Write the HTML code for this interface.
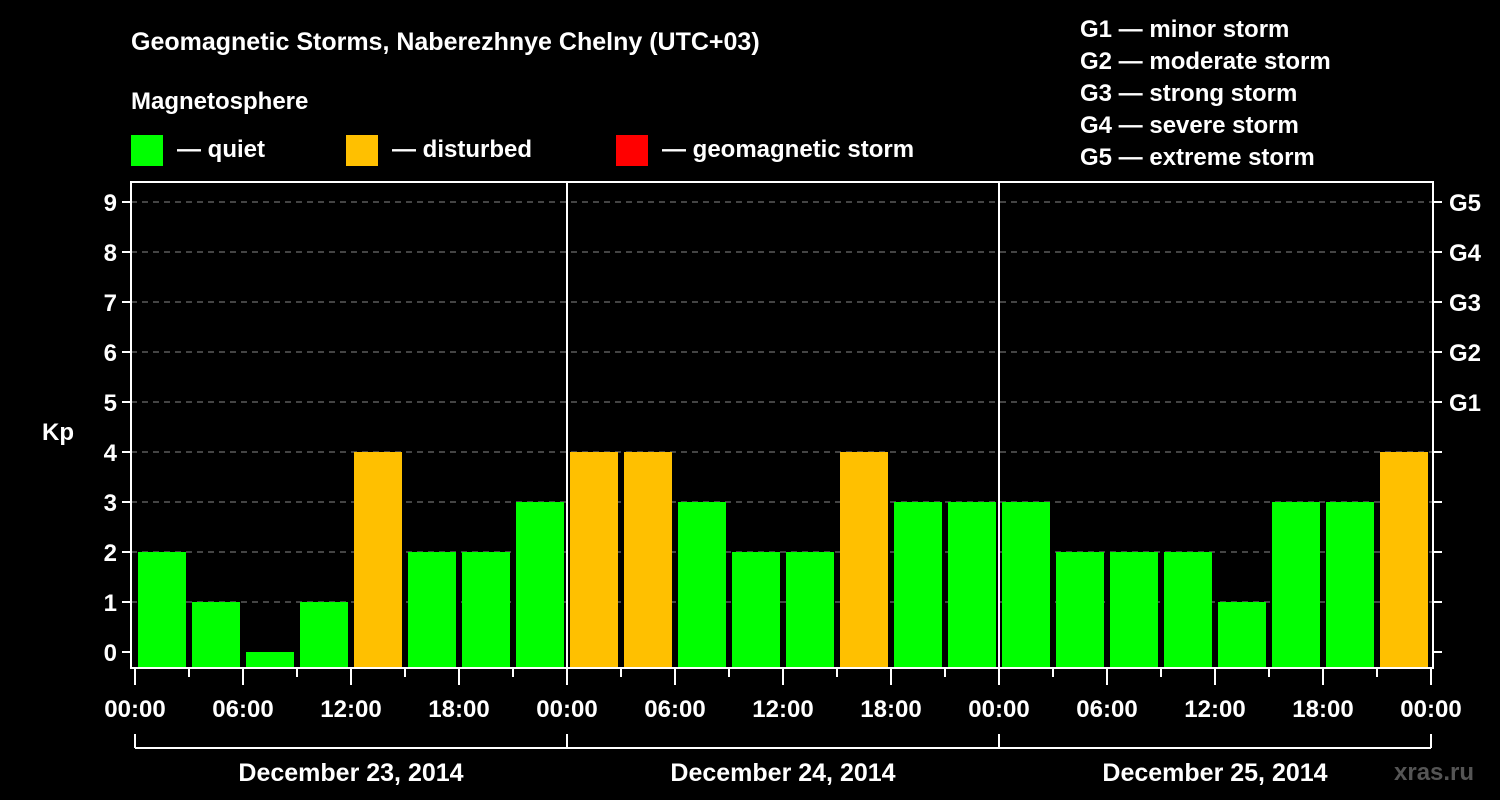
<!DOCTYPE html>
<html><head><meta charset="utf-8"><style>
html,body{margin:0;padding:0;background:#000;width:1500px;height:800px;overflow:hidden}
svg text{font-family:"Liberation Sans",sans-serif;font-weight:bold;fill:#fff}
</style></head><body>
<svg id="c" width="1500" height="800" xmlns="http://www.w3.org/2000/svg">
<text x="131" y="50" font-size="25">Geomagnetic Storms, Naberezhnye Chelny (UTC+03)</text>
<text x="131" y="109" font-size="24">Magnetosphere</text>
<g>
<rect x="131" y="135" width="32" height="31" fill="#00ff00"/>
<text x="177" y="157" font-size="24">— quiet</text>
<rect x="346" y="135" width="32" height="31" fill="#ffc000"/>
<text x="392" y="157" font-size="24">— disturbed</text>
<rect x="616" y="135" width="32" height="31" fill="#ff0000"/>
<text x="662" y="157" font-size="24">— geomagnetic storm</text>
</g>
<g font-size="24">
<text x="1080" y="37">G1 — minor storm</text>
<text x="1080" y="69">G2 — moderate storm</text>
<text x="1080" y="101">G3 — strong storm</text>
<text x="1080" y="133">G4 — severe storm</text>
<text x="1080" y="165">G5 — extreme storm</text>
</g>
<text x="42" y="440" font-size="24">Kp</text>
<text x="1394" y="780" font-size="24" style="fill:#555">xras.ru</text>
<g id="grid"></g><g id="bars"></g><g id="axes"></g>
</svg>
<script>
const kpValues=[2,1,0,1,4,2,2,3, 4,4,3,2,2,4,3,3, 3,2,2,2,1,3,3,4];
const yTicks=[0,1,2,3,4,5,6,7,8,9];
const gLabels=["G1","G2","G3","G4","G5"];
const xTickLabels=["00:00","06:00","12:00","18:00","00:00","06:00","12:00","18:00","00:00","06:00","12:00","18:00","00:00"];
const dayLabels=["December 23, 2014","December 24, 2014","December 25, 2014"];
const NS="http://www.w3.org/2000/svg";
const X0=135,PXH=18,Y0=652,PXK=50,TOP=182,BOT=668,L=131,R=1433;
const xs=h=>X0+h*PXH, ys=k=>Y0-k*PXK;
function mk(tag,attrs,parent,txt){const e=document.createElementNS(NS,tag);for(const k in attrs)e.setAttribute(k,attrs[k]);if(txt!==undefined)e.textContent=txt;parent.appendChild(e);return e;}
const grid=document.getElementById('grid'),bars=document.getElementById('bars'),axes=document.getElementById('axes');
yTicks.forEach(k=>{
 if(k>0){const g=mk('line',{x1:L,x2:R,y1:ys(k),y2:ys(k),stroke:'#888','stroke-dasharray':'6,5','stroke-width':1},grid);
 
 }
 const t=mk('line',{x1:L-9,x2:L,y1:ys(k),y2:ys(k),stroke:'#fff','stroke-width':2},axes);
 
 
 const t2=mk('line',{x1:R,x2:R+9,y1:ys(k),y2:ys(k),stroke:'#fff','stroke-width':2},axes);
 
 
 const lb=mk('text',{x:L-14,y:ys(k)+9,'font-size':24,'text-anchor':'end'},axes,String(k));
 
 
});
gLabels.forEach((g,i)=>{
 const lb=mk('text',{x:1449,y:ys(5+i)+9,'font-size':24},axes,g);
 
 
});
kpValues.forEach((v,i)=>{
 const x=xs(i*3)+3,w=3*PXH-6;
 const col=v>=5?'#ff0000':(v>=4?'#ffc000':'#00ff00');
 const b=mk('rect',{x:x,y:ys(v),width:w,height:BOT-ys(v),fill:col},bars);
 
 
});
const fr=mk('rect',{x:L,y:TOP,width:R-L,height:BOT-TOP,fill:'none',stroke:'#fff','stroke-width':2},axes);


[1,2].forEach(d=>{const l=mk('line',{x1:xs(d*24),x2:xs(d*24),y1:TOP,y2:BOT,stroke:'#fff','stroke-width':2},axes);
 
 });
for(let h=0;h<=72;h+=3){
 const major=h%6===0;
 const t=mk('line',{x1:xs(h),x2:xs(h),y1:BOT,y2:BOT+(major?17:9),stroke:'#fff','stroke-width':2},axes);
 
 
}
xTickLabels.forEach((s,i)=>{
 const t=mk('text',{x:xs(i*6),y:717,'font-size':24,'text-anchor':'middle'},axes,s);
 
 
});
const br=mk('line',{x1:xs(0),x2:xs(72),y1:748,y2:748,stroke:'#fff','stroke-width':2},axes);


[0,1,2,3].forEach(d=>{const l=mk('line',{x1:xs(d*24),x2:xs(d*24),y1:734,y2:748,stroke:'#fff','stroke-width':2},axes);
 
 });
dayLabels.forEach((s,d)=>{
 const t=mk('text',{x:xs(d*24+12),y:781,'font-size':25,'text-anchor':'middle'},axes,s);
 
 
});
</script>
</body></html>
